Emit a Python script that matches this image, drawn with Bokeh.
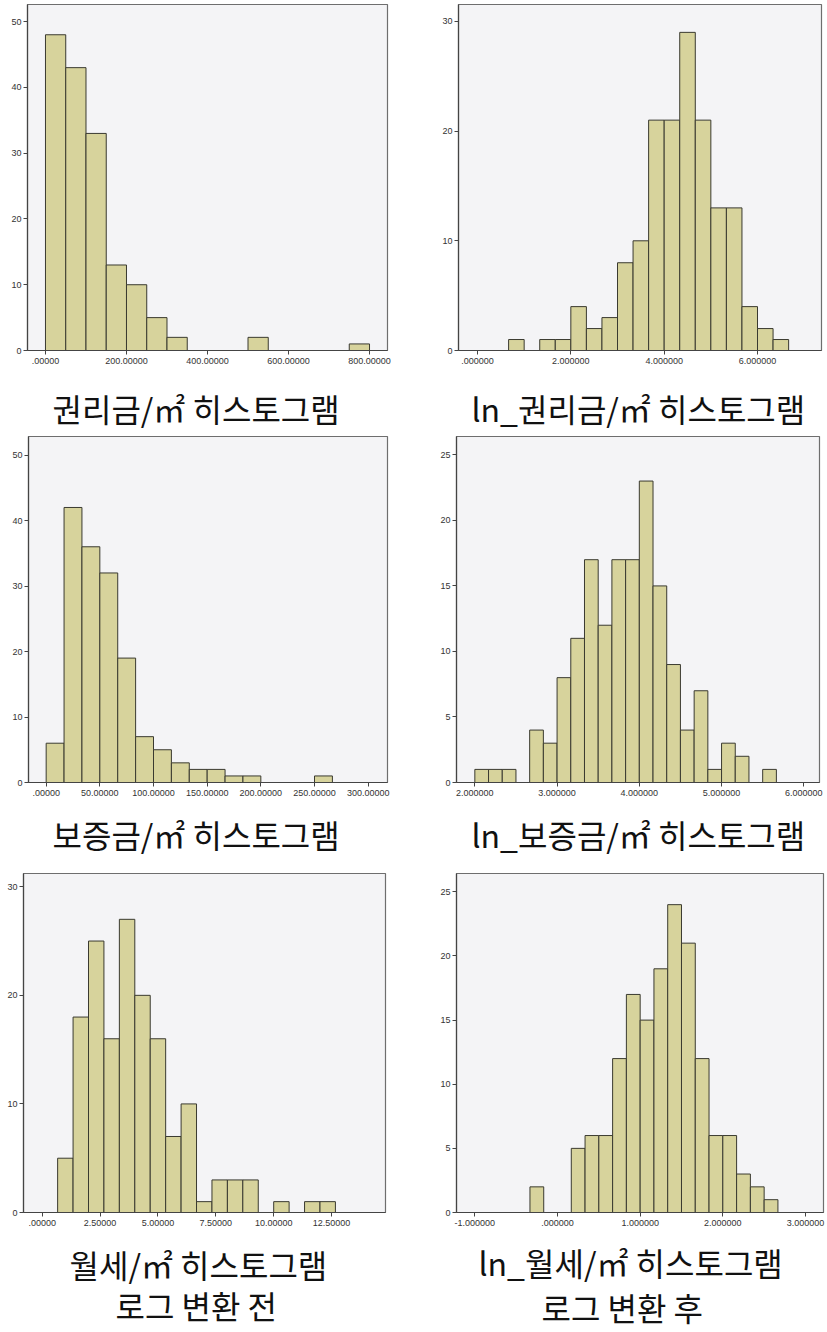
from bokeh.plotting import figure
from bokeh.layouts import column, row
from bokeh.models import FixedTicker, Range1d, Title
from bokeh.embed import file_html
from bokeh.resources import INLINE

# ---------------- data ----------------
# 권리금/㎡
p1_bin_start = 0.0
p1_bin_width = 50.0
p1_counts = [48, 43, 33, 13, 10, 5, 2, 0, 0, 0, 2, 0, 0, 0, 0, 1]
p1_xticks = [0, 200, 400, 600, 800]
p1_xlabels = [".00000", "200.00000", "400.00000", "600.00000", "800.00000"]
p1_yticks = [0, 10, 20, 30, 40, 50]
p1_titles = ["권리금/㎡ 히스토그램"]

# ln_권리금/㎡
p2_bin_start = 2.0 / 3.0
p2_bin_width = 1.0 / 3.0
p2_counts = [1, 0, 1, 1, 4, 2, 3, 8, 10, 21, 21, 29, 21, 13, 13, 4, 2, 1]
p2_xticks = [0, 2, 4, 6]
p2_xlabels = [".000000", "2.000000", "4.000000", "6.000000"]
p2_yticks = [0, 10, 20, 30]
p2_titles = ["ln_권리금/㎡ 히스토그램"]

# 보증금/㎡
p3_bin_start = 0.0
p3_bin_width = 50.0 / 3.0
p3_counts = [6, 42, 36, 32, 19, 7, 5, 3, 2, 2, 1, 1, 0, 0, 0, 1]
p3_xticks = [0, 50, 100, 150, 200, 250, 300]
p3_xlabels = [".00000", "50.00000", "100.00000", "150.00000", "200.00000", "250.00000", "300.00000"]
p3_yticks = [0, 10, 20, 30, 40, 50]
p3_titles = ["보증금/㎡ 히스토그램"]

# ln_보증금/㎡
p4_bin_start = 2.0
p4_bin_width = 1.0 / 6.0
p4_counts = [1, 1, 1, 0, 4, 3, 8, 11, 17, 12, 17, 17, 23, 15, 9, 4, 7, 1, 3, 2, 0, 1]
p4_xticks = [2, 3, 4, 5, 6]
p4_xlabels = ["2.000000", "3.000000", "4.000000", "5.000000", "6.000000"]
p4_yticks = [0, 5, 10, 15, 20, 25]
p4_titles = ["ln_보증금/㎡ 히스토그램"]

# 월세/㎡
p5_bin_start = 2.0 / 3.0
p5_bin_width = 2.0 / 3.0
p5_counts = [5, 18, 25, 16, 27, 20, 16, 7, 10, 1, 3, 3, 3, 0, 1, 0, 1, 1]
p5_xticks = [0, 2.5, 5, 7.5, 10, 12.5]
p5_xlabels = [".00000", "2.50000", "5.00000", "7.50000", "10.00000", "12.50000"]
p5_yticks = [0, 10, 20, 30]
p5_titles = ["월세/㎡ 히스토그램", "로그 변환 전"]

# ln_월세/㎡
p6_bin_start = -1.0 / 3.0
p6_bin_width = 1.0 / 6.0
p6_counts = [2, 0, 0, 5, 6, 6, 12, 17, 15, 19, 24, 21, 12, 6, 6, 3, 2, 1]
p6_xticks = [-1, 0, 1, 2, 3]
p6_xlabels = ["-1.000000", ".000000", "1.000000", "2.000000", "3.000000"]
p6_yticks = [0, 5, 10, 15, 20, 25]
p6_titles = ["ln_월세/㎡ 히스토그램", "로그 변환 후"]

# ---------------- style ----------------
BAR_FILL = "#d7d39c"
BAR_EDGE = "#3a3a30"
PLOT_BG = "#f4f4f6"
TICK_FONT = "Liberation Sans"
TITLE_FONT = "Noto Sans CJK KR"


def panel(width, height, borders, x_range, y_range, bin_start, bin_width, counts,
          xticks, xlabels, yticks, titles, title_offsets, title_gap, title_standoffs):
    bl, br, bt, bb = borders
    p = figure(width=width, height=height,
               x_range=Range1d(*x_range), y_range=Range1d(*y_range),
               output_backend="svg", toolbar_location=None,
               min_border_left=bl, min_border_right=br,
               min_border_top=bt, min_border_bottom=bb)
    p.background_fill_color = PLOT_BG
    p.border_fill_color = "white"
    p.outline_line_color = "#6e6e6e"
    p.outline_line_width = 1.2
    p.grid.visible = False

    lefts = [bin_start + i * bin_width for i, c in enumerate(counts) if c > 0]
    rights = [bin_start + (i + 1) * bin_width for i, c in enumerate(counts) if c > 0]
    tops = [c for c in counts if c > 0]
    p.quad(left=lefts, right=rights, bottom=0, top=tops,
           fill_color=BAR_FILL, line_color=BAR_EDGE, line_width=1)

    p.xaxis.ticker = FixedTicker(ticks=xticks)
    p.xaxis.major_label_overrides = {t: l for t, l in zip(xticks, xlabels)}
    p.yaxis.ticker = FixedTicker(ticks=yticks)
    for ax in (p.xaxis, p.yaxis):
        ax.axis_line_color = "#444444"
        ax.axis_line_width = 1.2
        ax.major_tick_line_color = "#444444"
        ax.major_tick_out = 4
        ax.major_tick_in = 0
        ax.minor_tick_line_color = None
        ax.major_label_text_font = TICK_FONT
        ax.major_label_text_font_size = "9px"
        ax.major_label_text_color = "#333333"
    p.xaxis.major_label_standoff = 3
    p.yaxis.major_label_standoff = 2

    # blank band between the tick labels and the caption
    if title_gap > 0:
        p.xaxis.axis_label = " "
        p.xaxis.axis_label_standoff = title_gap
        p.xaxis.axis_label_text_font_size = "1px"
        p.xaxis.axis_label_text_color = "white"

    for text, off, so in zip(titles, title_offsets, title_standoffs):
        p.add_layout(Title(text=text, align="left", offset=off, standoff=so,
                           vertical_align="top",
                           text_font=TITLE_FONT, text_font_size="32px",
                           text_font_style="normal", text_color="#111111"), "below")
    return p


p1 = panel(414, 430, (27, 27, 4, 78), (-44.4, 844.4), (0, 52.6),
           p1_bin_start, p1_bin_width, p1_counts, p1_xticks, p1_xlabels, p1_yticks,
           p1_titles, [25], 24, [-20])
p2 = panel(413, 430, (44, 6, 4, 80), (-0.407, 7.371), (0, 31.54),
           p2_bin_start, p2_bin_width, p2_counts, p2_xticks, p2_xlabels, p2_yticks,
           p2_titles, [13], 24, [-20])
p3 = panel(414, 430, (28, 27, 5, 78), (-16.46, 318.0), (0, 52.84),
           p3_bin_start, p3_bin_width, p3_counts, p3_xticks, p3_xlabels, p3_yticks,
           p3_titles, [24], 18, [-20])
p4 = panel(413, 430, (42, 8, 6, 78), (1.777, 6.191), (0, 26.4),
           p4_bin_start, p4_bin_width, p4_counts, p4_xticks, p4_xlabels, p4_yticks,
           p4_titles, [15], 18, [-20])
p5 = panel(414, 470, (23, 29, 13, 118), (-0.808, 14.83), (0, 31.22),
           p5_bin_start, p5_bin_width, p5_counts, p5_xticks, p5_xlabels, p5_yticks,
           p5_titles, [46, 92], 0, [24, -38])
p6 = panel(413, 470, (42, 4, 8, 112), (-1.222, 3.218), (0, 26.43),
           p6_bin_start, p6_bin_width, p6_counts, p6_xticks, p6_xlabels, p6_yticks,
           p6_titles, [22, 85], 0, [20, -26])

layout = column(row(p1, p2), row(p3, p4), row(p5, p6))
open("out.html", "w").write(file_html(layout, INLINE))
